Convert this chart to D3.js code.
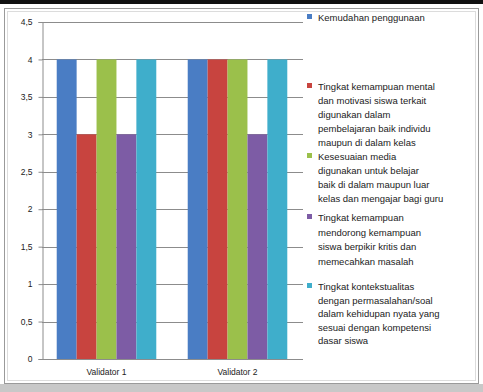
<!DOCTYPE html>
<html><head><meta charset="utf-8">
<script src="https://cdn.jsdelivr.net/npm/d3@7"></script>
<style>body{margin:0;background:#fff}svg{display:block;font-family:"Liberation Sans",Arial,sans-serif}</style>
</head><body><svg id="c" width="483" height="392"></svg>
<script>
const categories = ["Validator 1", "Validator 2"];
const seriesNames = [
  ["Kemudahan penggunaan"],
  ["Tingkat kemampuan mental", "dan motivasi siswa terkait", "digunakan dalam", "pembelajaran baik individu", "maupun di dalam kelas"],
  ["Kesesuaian media", "digunakan untuk belajar", "baik di dalam maupun luar", "kelas dan mengajar bagi guru"],
  ["Tingkat kemampuan", "mendorong kemampuan", "siswa berpikir kritis dan", "memecahkan masalah"],
  ["Tingkat kontekstualitas", "dengan permasalahan/soal", "dalam kehidupan nyata yang", "sesuai dengan kompetensi", "dasar siswa"]
];
const seriesValues = [
  [4, 4],
  [3, 4],
  [4, 4],
  [3, 3],
  [4, 4]
];
const yTicks = [0, 0.5, 1, 1.5, 2, 2.5, 3, 3.5, 4, 4.5];
const colors = ["#4A7DC4", "#C8443F", "#9BC04B", "#7D5CA5", "#3FAECB"];

const svg = d3.select("#c");
// outer decoration
svg.append("rect").attr("x",0).attr("y",0).attr("width",483).attr("height",4).attr("fill","#111");
svg.append("rect").attr("x",0).attr("y",384).attr("width",483).attr("height",8).attr("fill","#c8c8c8");
svg.append("rect").attr("x",4.5).attr("y",8.5).attr("width",474).attr("height",375).attr("fill","#fff").attr("stroke","#9a9a9a");
svg.append("rect").attr("x",7.5).attr("y",11.5).attr("width",468).attr("height",369).attr("fill","none").attr("stroke","#dcdcdc");

const x0 = d3.scaleBand().domain(categories).range([41, 303]).paddingInner(0.24).paddingOuter(0.12);
const x1 = d3.scaleBand().domain(d3.range(seriesValues.length)).range([0, x0.bandwidth()]);
const y = d3.scaleLinear().domain([0, 4.5]).range([359, 22]);

// grid
svg.append("g").selectAll("line").data(yTicks.filter(t=>t>0)).join("line")
  .attr("x1", 42).attr("x2", 303).attr("y1", d=>Math.round(y(d))+0.5).attr("y2", d=>Math.round(y(d))+0.5)
  .attr("stroke", "#8c8c8c").attr("stroke-width", 1);

// bars
const g = svg.append("g");
categories.forEach((c, ci) => {
  seriesValues.forEach((vals, si) => {
    g.append("rect")
      .attr("x", x0(c) + x1(si))
      .attr("width", x1.bandwidth())
      .attr("y", y(vals[ci]))
      .attr("height", y(0) - y(vals[ci]))
      .attr("fill", colors[si]);
  });
});

// y axis
const fmt = d => String(d).replace(".", ",");
const ya = svg.append("g").attr("transform", "translate(42.5,0)")
  .call(d3.axisLeft(y).tickValues(yTicks).tickFormat(fmt).tickSize(4).tickPadding(6));
ya.select(".domain").attr("stroke", "#8c8c8c");
ya.selectAll(".tick line").attr("stroke", "#8c8c8c");
ya.selectAll("text").attr("font-size", 8.5).attr("fill", "#222");

// x axis
const xa = svg.append("g").attr("transform", "translate(0,359.5)")
  .call(d3.axisBottom(x0).tickSize(0).tickPadding(9));
xa.select(".domain").attr("stroke", "#8c8c8c").attr("d", "M42,0H303");
xa.selectAll("text").attr("font-size", 8.5).attr("fill", "#222");

// legend
const legendY = [18, 87, 157, 218, 287];
const lineH = [14, 14, 14, 14.5, 13.5];
seriesNames.forEach((lines, i) => {
  const lg = svg.append("g");
  lg.append("rect").attr("x", 307).attr("y", legendY[i] - 4).attr("width", 5).attr("height", 5).attr("fill", colors[i]);
  lg.append("text").attr("x", 318).attr("y", legendY[i]).attr("font-size", 9.5).attr("fill", "#222")
    .attr("dominant-baseline", "middle")
    .selectAll("tspan").data(lines).join("tspan")
    .attr("x", 318).attr("dy", (d, k) => k === 0 ? 0 : lineH[i]).text(d => d);
});
</script>
</body></html>
